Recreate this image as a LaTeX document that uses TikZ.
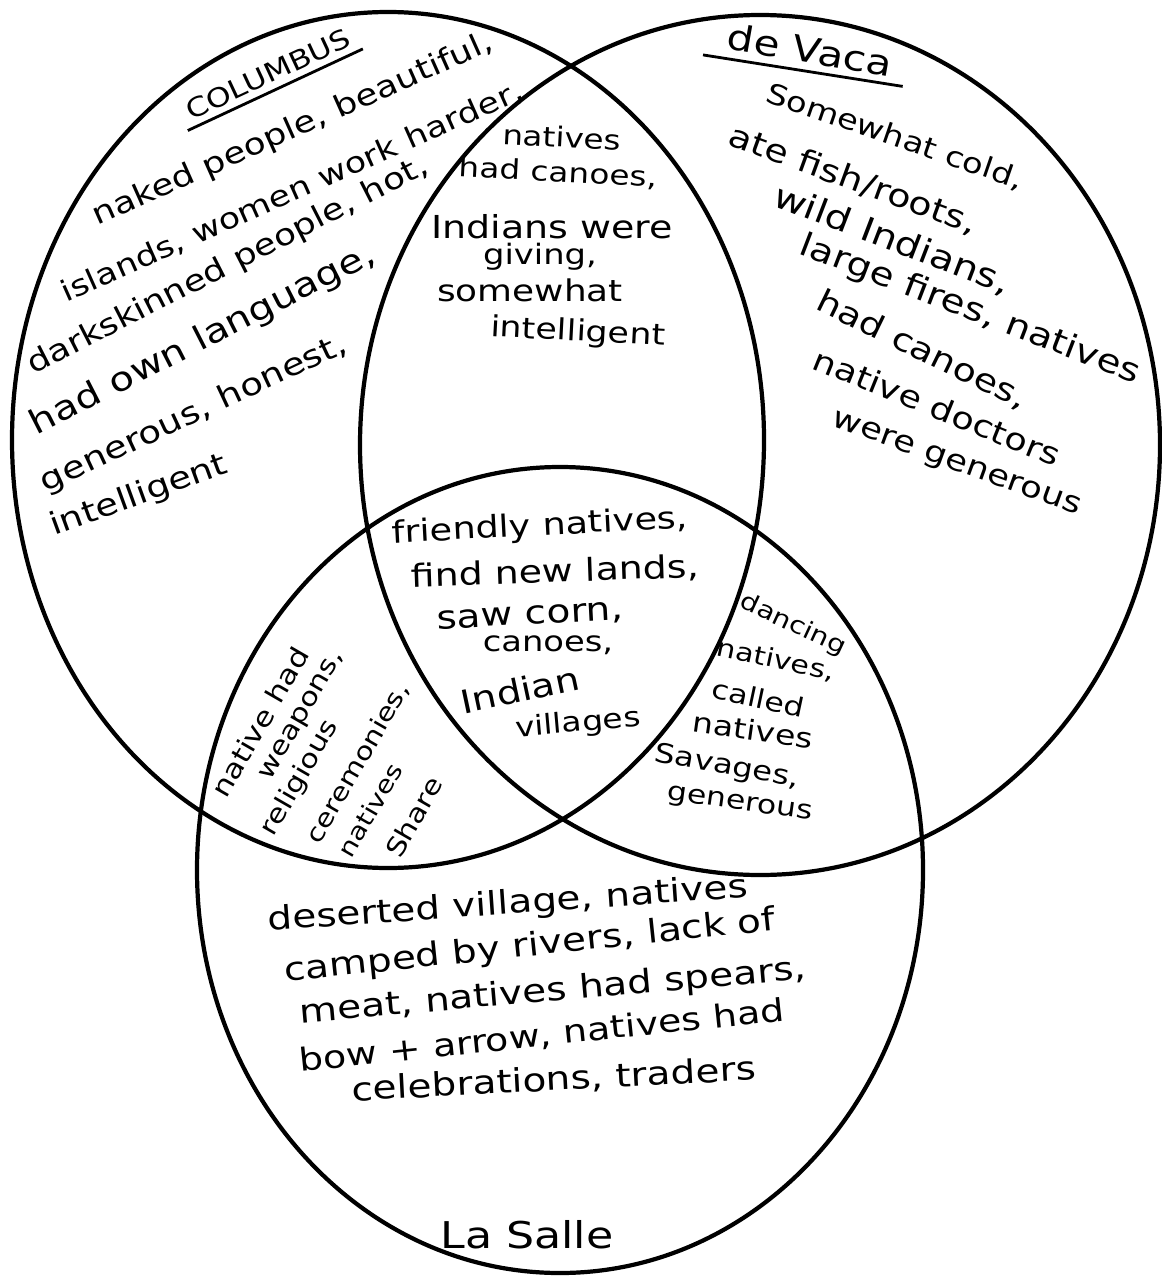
\documentclass[tikz,border=0pt]{standalone}
\usepackage{fontspec}
\setmainfont{DejaVu Sans}[FakeStretch=1.2]
\begin{document}
\begin{tikzpicture}[x=0.02cm, y=-0.02cm, line width=2.4pt,
  txt/.style={inner sep=0pt, font=\fontsize{#1}{#1}\selectfont},
  txt/.default=17,
  title/.style={txt=#1, inner sep=3pt}]
  \useasboundingbox (0,0) rectangle (1161,1277);
  \draw (388,440) ellipse [x radius=376, y radius=428];
  \draw (760,445) ellipse [x radius=400, y radius=430];
  \draw (560,870) ellipse [x radius=363, y radius=403];

  \node[title=15, rotate=25] (colu) at (268,74) {COLUMBUS};
  \draw[line width=1.6pt] (colu.south west) -- (colu.south east);
  \node[txt=17, rotate=24] (c1) at (293,130) {naked people, beautiful,};
  \node[txt=16.5, rotate=24] (c2) at (292,192) {islands, women work harder,};
  \node[txt=17, rotate=27] (c3) at (228,266) {darkskinned people, hot,};
  \node[txt=19, rotate=27] (c4) at (203,340) {had own language,};
  \node[txt=17.6, rotate=25] (c5) at (194,414) {generous, honest,};
  \node[txt=17.6, rotate=20] (c6) at (139,496) {intelligent};

  \node[txt=15.5, rotate=-3] (m1) at (562,137) {natives};
  \node[txt=15.5, rotate=-3] (m2) at (558,173) {had canoes,};
  \node[txt=18] (m3) at (552,227) {Indians were};
  \node[txt=16] (m4) at (540,257) {giving,};
  \node[txt=17] (m5) at (530,290) {somewhat};
  \node[txt=16.5, rotate=-3] (m6) at (578,333) {intelligent};

  \node[title=20, rotate=-10] (vaca) at (810,50) {de Vaca};
  \draw[line width=1.6pt] ([xshift=-8pt]vaca.south west) -- ([xshift=4pt]vaca.south east);
  \node[txt=16, rotate=-19] (d1) at (895,137) {Somewhat cold,};
  \node[txt=18, rotate=-20] (d2) at (853,180) {ate fish/roots,};
  \node[txt=19, rotate=-21] (d3) at (892,240) {wild Indians,};
  \node[txt=18.5, rotate=-21] (d4) at (970,310) {large fires, natives};
  \node[txt=18, rotate=-26] (d5) at (922,350) {had canoes,};
  \node[txt=17.4, rotate=-22] (d6) at (937,407) {native doctors};
  \node[txt=16.8, rotate=-20] (d7) at (956,465) {were generous};

  \node[txt=17.4, rotate=3] (x1) at (540,527) {friendly natives,};
  \node[txt=18, rotate=2] (x2) at (555,572) {find new lands,};
  \node[txt=18.5, rotate=3] (x3) at (530,617) {saw corn,};
  \node[txt=16] (x4) at (548,645) {canoes,};
  \node[txt=18.5, rotate=12] (x5) at (520,690) {Indian};
  \node[txt=15.6, rotate=5] (x6) at (578,724) {villages};

  \node[txt=13.6, rotate=-25] (r1) at (793,625) {dancing};
  \node[txt=14.3, rotate=-12] (r2) at (776,660) {natives,};
  \node[txt=15, rotate=-12] (r3) at (758,698) {called};
  \node[txt=15.7, rotate=-8] (r4) at (753,730) {natives};
  \node[txt=15.3, rotate=-10] (r5) at (727,767) {Savages,};
  \node[txt=14.9, rotate=-8] (r6) at (740,805) {generous};

  \node[txt=15, rotate=60] (l1) at (260,722) {native had};
  \node[txt=14.5, rotate=60] (l2) at (303,716) {weapons,};
  \node[txt=14.5, rotate=60] (l3) at (300,778) {religious};
  \node[txt=14, rotate=60] (l4) at (358,763) {ceremonies,};
  \node[txt=13.5, rotate=60] (l5) at (370,810) {natives};
  \node[txt=14.5, rotate=60] (l6) at (414,817) {Share};

  \node[txt=18.5, rotate=4] (b1) at (508,905) {deserted village, natives};
  \node[txt=18.5, rotate=6] (b2) at (530,947) {camped by rivers, lack of};
  \node[txt=18.5, rotate=5] (b3) at (553,992) {meat, natives had spears,};
  \node[txt=18, rotate=6] (b4) at (542,1036) {bow + arrow, natives had};
  \node[txt=18.5, rotate=3] (b5) at (554,1080) {celebrations, traders};
  \node[txt=21] (lasalle) at (527,1235) {La Salle};
\end{tikzpicture}
\end{document}
